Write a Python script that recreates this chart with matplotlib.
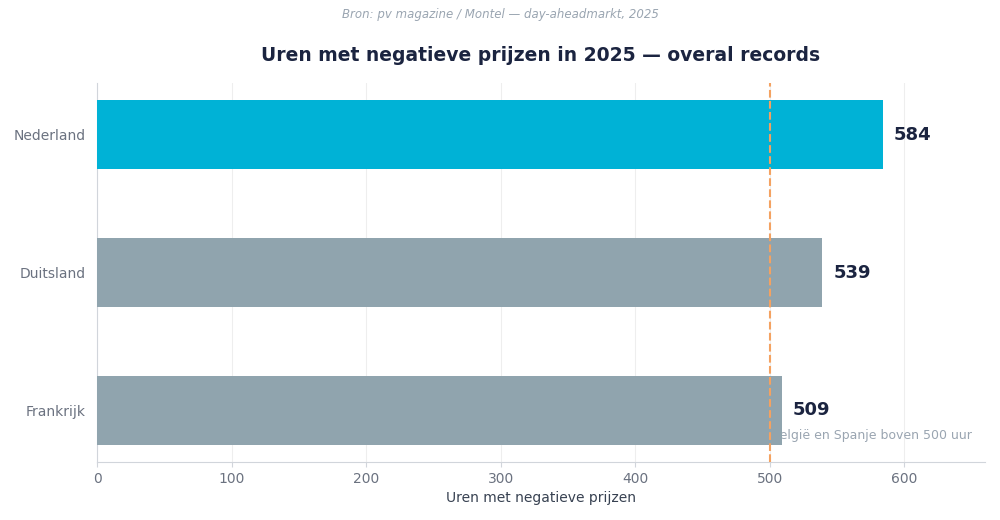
import matplotlib.pyplot as plt

countries = ['Frankrijk', 'Duitsland', 'Nederland']
hours = [509, 539, 584]
colors = ['#90A4AE', '#90A4AE', '#00B2D6']
threshold = 500
note = 'België en Spanje boven 500 uur'

fig = plt.figure(figsize=(10, 5.2), dpi=100)
ax = fig.add_axes([0.097, 0.1115, 0.888, 0.7285])

ax.barh(countries, hours, height=0.5, color=colors, zorder=3)
for i, v in enumerate(hours):
    ax.annotate(str(v), xy=(v, i), xytext=(8, 0), textcoords='offset points',
                va='center', ha='left', fontsize=13, fontweight='bold', color='#1B2440')

ax.axvline(threshold, color='#F4A261', linestyle='--', linewidth=1.5, zorder=4)
ax.text(threshold + 1, -0.18, note, fontsize=9, color='#9AA5B1', va='center', ha='left', zorder=2)

ax.set_xlim(0, 660)
ax.set_xticks([0, 100, 200, 300, 400, 500, 600])
ax.grid(axis='x', color='#EEEEEE', linewidth=0.8, zorder=0)
ax.set_axisbelow(True)
for s in ['top', 'right']:
    ax.spines[s].set_visible(False)
for s in ['left', 'bottom']:
    ax.spines[s].set_color('#D1D5DB')
ax.tick_params(axis='both', colors='#D1D5DB', labelcolor='#6B7280', labelsize=10)
ax.tick_params(axis='y', length=0, pad=8)
ax.set_xlabel('Uren met negatieve prijzen', fontsize=10, color='#374151')
ax.set_title('Uren met negatieve prijzen in 2025 — overal records', fontsize=13.5,
             fontweight='bold', color='#1B2440', pad=16)
fig.text(0.5, 0.973, 'Bron: pv magazine / Montel — day-aheadmarkt, 2025', ha='center', va='center',
         fontsize=8.5, style='italic', color='#9AA5B1')

fig.savefig('out.png', dpi=100)
